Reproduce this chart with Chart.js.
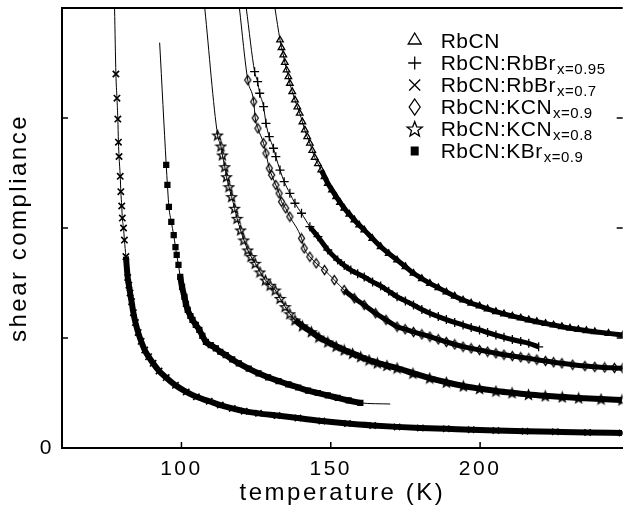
<!DOCTYPE html>
<html>
<head>
<meta charset="utf-8">
<script src="https://cdn.jsdelivr.net/npm/chart.js@4/dist/chart.umd.min.js"></script>
<style>
    html, body { margin: 0; padding: 0; background: #fff; }
    #wrap { position: relative; width: 629px; height: 508px; }
</style>
</head>
<body>
<div id="wrap"><canvas id="ShearChart"></canvas></div>
<script>
// Values: temperature (K) and shear compliance (arb. units)

// RbCN (triangles)
const rbcnT = [133.0, 133.5, 134.1, 134.6, 135.2, 135.8, 136.3, 137.1, 138.0, 138.8, 139.6, 140.5, 141.3, 142.1, 143.0, 143.8, 144.6, 145.7, 146.8, 147.9, 149.0, 150.4, 151.8, 153.1, 154.5, 156.2, 157.9, 159.5, 161.2, 163.9, 166.7, 169.4, 172.2, 175.0, 177.7, 180.5, 183.2, 186.0, 188.7, 191.5, 194.3, 197.0, 199.8, 202.5, 205.3, 208.0, 210.8, 213.6, 216.3, 219.0, 221.9, 224.6, 227.4, 230.1, 232.9, 235.6, 238.4, 243.0, 247.8];
const rbcnS = [3.709, 3.64, 3.573, 3.505, 3.436, 3.375, 3.315, 3.24, 3.164, 3.10, 3.043, 2.965, 2.891, 2.83, 2.770, 2.705, 2.641, 2.584, 2.527, 2.466, 2.406, 2.345, 2.285, 2.232, 2.179, 2.126, 2.073, 2.027, 1.982, 1.906, 1.830, 1.768, 1.709, 1.648, 1.588, 1.54, 1.497, 1.457, 1.418, 1.38, 1.345, 1.317, 1.291, 1.264, 1.239, 1.219, 1.2, 1.182, 1.164, 1.148, 1.132, 1.118, 1.103, 1.09, 1.077, 1.067, 1.057, 1.042, 1.027];

// RbCN:RbBr x=0.95 (plus)
const rbbr95T = [124.5, 125.5, 126.2, 127.5, 128.3, 129.4, 130.8, 131.6, 133.0, 134.4, 136.3, 138.0, 140.2, 143.0, 145.7, 149.0, 152.3, 154.5, 156.7, 159.0, 161.2, 164.0, 166.7, 169.4, 172.2, 175.0, 177.7, 180.5, 183.2, 186.0, 188.7, 191.5, 194.3, 197.0, 199.8, 202.5, 205.3, 208.0, 210.8, 213.6, 216.3, 219.6];
const rbbr95S = [3.421, 3.330, 3.225, 3.103, 2.952, 2.830, 2.725, 2.648, 2.527, 2.421, 2.315, 2.225, 2.134, 2.012, 1.921, 1.800, 1.709, 1.66, 1.618, 1.585, 1.555, 1.51, 1.473, 1.425, 1.375, 1.337, 1.300, 1.26, 1.225, 1.195, 1.168, 1.142, 1.118, 1.095, 1.073, 1.05, 1.027, 1.006, 0.986, 0.968, 0.952, 0.92];

// RbCN:RbBr x=0.7 (crosses)
const rbbr70T = [78.05, 78.4, 78.7, 78.9, 79.1, 79.5, 79.7, 80.0, 80.2, 80.6, 80.9, 81.4, 82.0, 82.4, 82.8, 83.3, 83.9, 84.6, 85.5, 86.5, 87.7, 89.0, 90.5, 92.5, 94.9, 98.0, 101.6, 105.0, 109.3, 113.0, 117.0, 121.0, 125.8, 132.0, 139.0, 147.0, 155.6, 164.0, 172.2, 180.0, 188.7, 197.0, 205.3, 215.0, 225.2, 236.0, 247.5];
const rbbr70S = [3.40, 3.18, 2.99, 2.78, 2.65, 2.47, 2.33, 2.20, 2.09, 2.00, 1.89, 1.74, 1.55, 1.48, 1.41, 1.33, 1.23, 1.14, 1.05, 0.97, 0.89, 0.83, 0.77, 0.70, 0.64, 0.57, 0.51, 0.465, 0.425, 0.39, 0.36, 0.335, 0.315, 0.295, 0.272, 0.245, 0.222, 0.205, 0.192, 0.182, 0.174, 0.166, 0.159, 0.153, 0.147, 0.141, 0.136];

// RbCN:KCN x=0.9 (diamonds)
const kcn90T = [122.2, 124.2, 124.7, 125.6, 127.5, 128.3, 129.4, 130.2, 131.6, 132.7, 133.5, 134.9, 136.3, 140.2, 141.1, 143.0, 145.1, 147.9, 151.2, 154.5, 157.9, 161.2, 165.0, 168.5, 172.2, 174.9, 177.7, 180.5, 183.2, 186.0, 188.7, 191.5, 194.3, 197.0, 199.8, 202.5, 205.3, 208.0, 210.8, 213.6, 216.3, 219.0, 221.9, 224.6, 227.4, 231.0, 235.1, 238.4, 241.7, 245.0, 247.8];
const kcn90S = [3.345, 3.148, 3.00, 2.906, 2.770, 2.679, 2.543, 2.482, 2.391, 2.315, 2.239, 2.179, 2.103, 1.906, 1.815, 1.739, 1.679, 1.618, 1.527, 1.436, 1.361, 1.300, 1.225, 1.165, 1.103, 1.08, 1.055, 1.033, 1.012, 0.988, 0.964, 0.942, 0.921, 0.906, 0.891, 0.876, 0.861, 0.848, 0.836, 0.825, 0.815, 0.803, 0.791, 0.780, 0.770, 0.757, 0.745, 0.738, 0.732, 0.728, 0.725];

// RbCN:KCN x=0.8 (stars)
const kcn80T = [112.1, 113.2, 113.7, 114.5, 115.1, 115.9, 116.8, 117.8, 118.6, 119.8, 120.9, 122.2, 123.3, 124.7, 126.3, 128.1, 129.7, 131.4, 133.0, 134.7, 136.3, 138.0, 140.5, 143.5, 146.0, 149.0, 151.8, 154.5, 157.3, 160.0, 162.8, 165.6, 168.8, 172.2, 177.5, 183.1, 188.7, 194.4, 199.8, 205.3, 210.7, 216.2, 221.8, 227.5, 233.0, 240.5, 247.5];
const kcn80S = [2.845, 2.745, 2.664, 2.557, 2.466, 2.375, 2.285, 2.179, 2.088, 1.982, 1.891, 1.80, 1.74, 1.679, 1.60, 1.527, 1.48, 1.436, 1.36, 1.285, 1.22, 1.164, 1.11, 1.057, 1.008, 0.964, 0.925, 0.891, 0.860, 0.830, 0.800, 0.773, 0.750, 0.727, 0.680, 0.636, 0.598, 0.564, 0.540, 0.518, 0.502, 0.486, 0.474, 0.464, 0.455, 0.445, 0.437];

// RbCN:KBr x=0.9 (filled squares)
const kbr90T = [94.9, 95.3, 95.8, 96.6, 97.4, 98.0, 98.4, 99.0, 99.6, 100.2, 101.0, 101.5, 102.1, 103.0, 103.7, 104.8, 106.0, 107.0, 108.2, 109.8, 111.5, 113.0, 114.8, 117.0, 119.2, 122.5, 125.8, 129.0, 132.5, 135.8, 139.1, 142.4, 145.7, 149.0, 152.3, 156.0, 159.9];
const kbr90S = [2.573, 2.391, 2.191, 2.055, 1.936, 1.827, 1.755, 1.664, 1.555, 1.464, 1.373, 1.31, 1.255, 1.20, 1.164, 1.12, 1.073, 1.02, 0.964, 0.935, 0.906, 0.875, 0.845, 0.805, 0.770, 0.722, 0.679, 0.643, 0.609, 0.578, 0.55, 0.522, 0.50, 0.478, 0.455, 0.432, 0.41];

// where each fitted line starts (top) and, for KBr, where it runs on past the data
const lineStartT = [131.3, 121.7, 77.6, 119.4, 107.8, 92.7];
const lineStartS = [4.0, 4.0, 4.0, 4.0, 4.0, 3.685];
const lineEndT = [null, null, null, null, null, 169.9];
const lineEndS = [null, null, null, null, null, 0.40];

// temperature above which the measured points crowd into a solid band
const bandFromT = [146, 143, 81.2, 152, 138, 99.5];

const legendNames = ['RbCN', 'RbCN:RbBr', 'RbCN:RbBr', 'RbCN:KCN', 'RbCN:KCN', 'RbCN:KBr'];
const legendSubs = ['', 'x=0.95', 'x=0.7', 'x=0.9', 'x=0.8', 'x=0.9'];

const xTickVals = [100, 150, 200];
const yTickVals = [0, 1, 2, 3];
const yTickLabels = ['0', '', '', ''];

const seriesT = [rbcnT, rbbr95T, rbbr70T, kcn90T, kcn80T, kbr90T];
const seriesS = [rbcnS, rbbr95S, rbbr70S, kcn90S, kcn80S, kbr90S];

const FONT = "'Liberation Sans', Arial, sans-serif";

// small canvases for the marker shapes Chart.js does not have
function makeStar(r)
{
    const size = Math.ceil(2 * r + 3);
    const c = document.createElement('canvas');
    c.width = size; c.height = size;
    const g = c.getContext('2d');
    starPath(g, size / 2, size / 2 + 0.5, r);
    g.strokeStyle = '#000';
    g.lineWidth = 1.3;
    g.stroke();
    return c;
}

function starPath(g, cx, cy, r)
{
    g.beginPath();
    for (let k = 0; k < 10; k++)
    {
        const rr = k % 2 === 0 ? r : r * 0.42;
        const a = -Math.PI / 2 + k * Math.PI / 5;
        const px = cx + rr * Math.cos(a);
        const py = cy + rr * Math.sin(a);
        if (k === 0) g.moveTo(px, py); else g.lineTo(px, py);
    }
    g.closePath();
}

function makeDiamond(w, h)
{
    const c = document.createElement('canvas');
    c.width = w + 3; c.height = h + 3;
    const g = c.getContext('2d');
    diamondPath(g, (w + 3) / 2, (h + 3) / 2, w / 2, h / 2);
    g.strokeStyle = '#000';
    g.lineWidth = 1.3;
    g.stroke();
    return c;
}

function diamondPath(g, cx, cy, hw, hh)
{
    g.beginPath();
    g.moveTo(cx, cy - hh);
    g.lineTo(cx + hw, cy);
    g.lineTo(cx, cy + hh);
    g.lineTo(cx - hw, cy);
    g.closePath();
}

const markerStyles = ['triangle', 'cross', 'crossRot', makeDiamond(6, 9), makeStar(5), 'rect'];
const markerRadius = [3.8, 4.5, 4.5, 5, 5, 3.5];
const markerStroke = [1.3, 1.3, 1.6, 1.3, 1.3, 1.3];
const bandWidth = [5, 5, 6, 5, 6, 6];

const datasets = [];
seriesT.forEach((T, i) =>
{
    const pts = T.map((t, j) => ({ x: t, y: seriesS[i][j] }));
    const fit = [{ x: lineStartT[i], y: lineStartS[i] }, ...pts];
    if (lineEndT[i] !== null) fit.push({ x: lineEndT[i], y: lineEndS[i] });

    datasets.push({
        data: fit,
        showLine: true,
        pointRadius: 0,
        borderColor: '#000',
        borderWidth: 1,
        cubicInterpolationMode: 'monotone'
    });
    datasets.push({
        data: pts,
        showLine: true,
        borderWidth: bandWidth[i],
        borderColor: '#000',
        cubicInterpolationMode: 'monotone',
        segment: { borderColor: c => c.p0.parsed.x >= bandFromT[i] ? '#000' : 'rgba(0,0,0,0)' },
        pointStyle: markerStyles[i],
        pointRadius: markerRadius[i],
        pointBorderColor: '#000',
        pointBackgroundColor: i === 5 ? '#000' : 'rgba(0,0,0,0)',
        pointBorderWidth: markerStroke[i]
    });
});

// letter spacing for the wide-tracked axis text
const spacingPlugin =
{
    id: 'spacing',
    beforeDraw(chart) { chart.ctx.letterSpacing = '2.5px'; }
};

// inward ticks on bottom, left and right, plus the top frame line
const framePlugin =
{
    id: 'frame',
    afterDraw(chart)
    {
        const { ctx, chartArea: a, scales } = chart;
        ctx.save();
        ctx.strokeStyle = '#000';
        ctx.lineWidth = 1.5;
        ctx.beginPath();
        xTickVals.forEach(v =>
        {
            const px = scales.x.getPixelForValue(v);
            ctx.moveTo(px, a.bottom);
            ctx.lineTo(px, a.bottom - 6);
        });
        yTickVals.slice(1).forEach(v =>
        {
            const py = scales.y.getPixelForValue(v);
            ctx.moveTo(a.left, py);
            ctx.lineTo(a.left + 6, py);
            ctx.moveTo(a.right, py);
            ctx.lineTo(a.right - 6, py);
        });
        ctx.stroke();
        ctx.lineWidth = 2;
        ctx.beginPath();
        ctx.moveTo(a.left - 1, a.top);
        ctx.lineTo(a.right, a.top);
        ctx.stroke();
        ctx.restore();
    }
};

function drawLegendMark(ctx, i, x, y)
{
    ctx.beginPath();
    if (i === 0)
    {
        ctx.moveTo(x, y - 6);
        ctx.lineTo(x + 6.5, y + 5);
        ctx.lineTo(x - 6.5, y + 5);
        ctx.closePath();
        ctx.stroke();
    }
    else if (i === 1)
    {
        ctx.moveTo(x - 6.5, y); ctx.lineTo(x + 6.5, y);
        ctx.moveTo(x, y - 6.5); ctx.lineTo(x, y + 6.5);
        ctx.stroke();
    }
    else if (i === 2)
    {
        ctx.moveTo(x - 5.5, y - 5.5); ctx.lineTo(x + 5.5, y + 5.5);
        ctx.moveTo(x + 5.5, y - 5.5); ctx.lineTo(x - 5.5, y + 5.5);
        ctx.stroke();
    }
    else if (i === 3)
    {
        diamondPath(ctx, x, y, 5.5, 8);
        ctx.stroke();
    }
    else if (i === 4)
    {
        starPath(ctx, x, y + 0.5, 8);
        ctx.stroke();
    }
    else
    {
        ctx.fillRect(x - 4, y - 4.5, 8, 9);
    }
}

const legendPlugin =
{
    id: 'insetLegend',
    afterDraw(chart)
    {
        const { ctx, chartArea: a } = chart;
        const markX = a.right - 208;
        const textX = a.right - 182;
        ctx.save();
        ctx.letterSpacing = '0.5px';
        ctx.fillStyle = '#000';
        ctx.strokeStyle = '#000';
        ctx.lineWidth = 1.3;
        ctx.textAlign = 'left';
        ctx.textBaseline = 'alphabetic';
        legendNames.forEach((name, i) =>
        {
            const base = a.top + 40 + i * 22;
            drawLegendMark(ctx, i, markX, i === 0 ? base - 9 : base - 7);
            ctx.font = '21px ' + FONT;
            ctx.fillText(name, textX, base);
            if (legendSubs[i])
            {
                const w = ctx.measureText(name).width;
                ctx.font = '15px ' + FONT;
                ctx.fillText(legendSubs[i], textX + w + 1, base + 4);
            }
        });
        ctx.restore();
    }
};

Chart.defaults.font.family = FONT;
Chart.defaults.color = '#000';

new Chart(document.getElementById('ShearChart'),
{
    type: 'scatter',
    data: { datasets: datasets },
    plugins: [spacingPlugin, framePlugin, legendPlugin],
    options:
    {
        responsive: true,
        maintainAspectRatio: false,
        devicePixelRatio: 1,
        animation: false,
        events: [],
        layout: { padding: { top: 8, right: 0, left: 0, bottom: 0 } },
        plugins: { legend: { display: false }, tooltip: { enabled: false } },
        scales:
        {
            x:
            {
                type: 'linear',
                min: 60,
                max: 247.75,
                afterBuildTicks: axis => { axis.ticks = xTickVals.map(v => ({ value: v })); },
                afterFit: axis => { axis.height = 60; axis.paddingLeft = 0; axis.paddingRight = 0; },
                grid: { drawOnChartArea: false, drawTicks: false },
                border: { display: true, color: '#000', width: 2 },
                ticks: { font: { size: 21 }, padding: 9, maxRotation: 0, autoSkip: false },
                title: { display: true, text: 'temperature (K)', font: { size: 24 }, padding: { top: 0, bottom: 0 } }
            },
            y:
            {
                type: 'linear',
                min: 0,
                max: 4,
                afterBuildTicks: axis => { axis.ticks = yTickVals.map(v => ({ value: v })); },
                afterFit: axis => { axis.width = 62; axis.paddingTop = 0; axis.paddingBottom = 0; },
                grid: { drawOnChartArea: false, drawTicks: false },
                border: { display: true, color: '#000', width: 2 },
                ticks: { font: { size: 21 }, padding: 8, callback: (v, idx) => yTickLabels[idx] },
                title: { display: true, text: 'shear compliance', font: { size: 24 }, padding: { top: 5, bottom: 0 } }
            }
        }
    }
});
</script>
</body>
</html>
